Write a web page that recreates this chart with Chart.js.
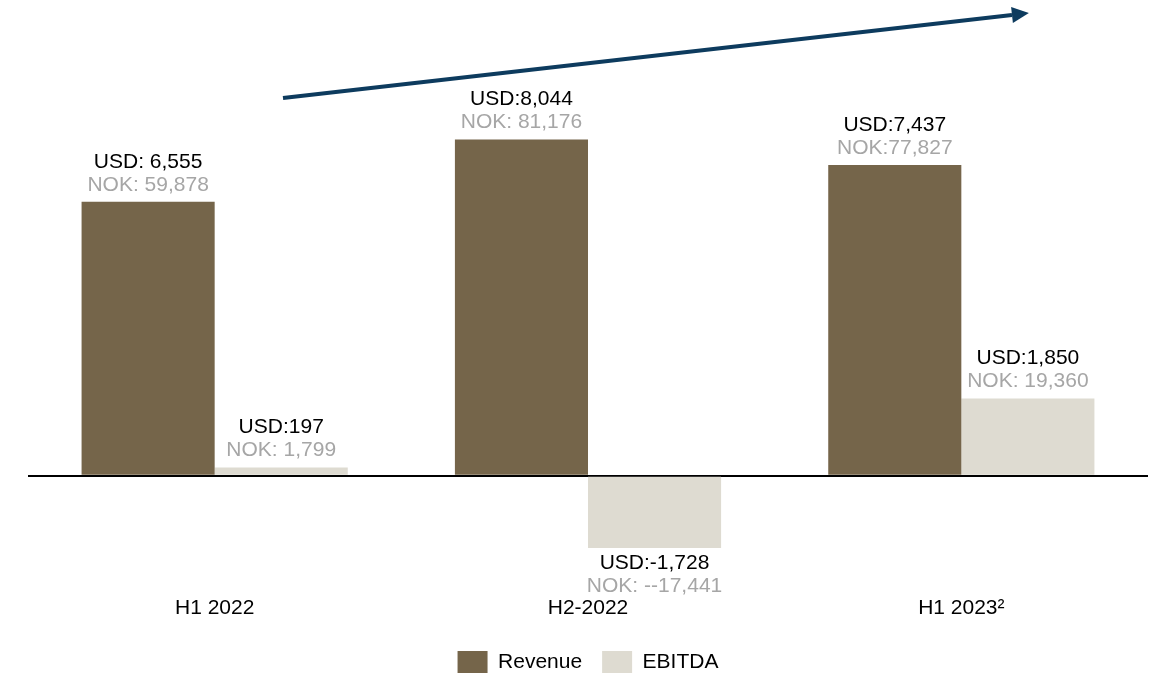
<!DOCTYPE html>
<html>
<head>
<meta charset="utf-8">
<script src="https://cdn.jsdelivr.net/npm/chart.js@4"></script>
<style>
  html, body { margin: 0; padding: 0; background: #fff; }
  #wrap { width: 1155px; height: 673px; }
</style>
</head>
<body>
<div id="wrap"><canvas id="myChart" width="1155" height="673"></canvas></div>
<script>
// half-year periods
const categories = ["H1 2022", "H2-2022", "H1 2023\u00B2"];
const revenueUsd = [6555, 8044, 7437];   // USD m
const ebitdaUsd = [197, -1728, 1850];    // USD m
// label texts as printed on the slide
const revenueUsdText = ["USD: 6,555", "USD:8,044", "USD:7,437"];
const revenueNokText = ["NOK: 59,878", "NOK: 81,176", "NOK:77,827"];
const ebitdaUsdText = ["USD:197", "USD:-1,728", "USD:1,850"];
const ebitdaNokText = ["NOK: 1,799", "NOK: --17,441", "NOK: 19,360"];

const fontFam = "'Liberation Sans', Arial, sans-serif";

// two-line labels above (or below) each bar
const barLabels = {
  id: "barLabels",
  afterDatasetsDraw(chart) {
    const ctx = chart.ctx;
    const texts = [[revenueUsdText, revenueNokText], [ebitdaUsdText, ebitdaNokText]];
    ctx.save();
    ctx.font = "21px " + fontFam;
    ctx.textAlign = "center";
    ctx.textBaseline = "middle";
    chart.data.datasets.forEach((ds, di) => {
      chart.getDatasetMeta(di).data.forEach((bar, i) => {
        let yUsd, yNok;
        if (ds.data[i] >= 0) {
          yUsd = bar.y - 40;
          yNok = bar.y - 17;
        } else {
          yUsd = bar.y + 15;
          yNok = bar.y + 38;
        }
        ctx.fillStyle = "#000000";
        ctx.fillText(texts[di][0][i], bar.x, yUsd);
        ctx.fillStyle = "#A6A6A6";
        ctx.fillText(texts[di][1][i], bar.x, yNok);
      });
    });
    ctx.restore();
  }
};

// growth arrow across the top
const trendArrow = {
  id: "trendArrow",
  afterDraw(chart) {
    const ctx = chart.ctx;
    const x1 = 283, y1 = 98, x2 = 1012, y2 = 15;
    const ang = Math.atan2(y2 - y1, x2 - x1);
    ctx.save();
    ctx.strokeStyle = "#0D3B5E";
    ctx.fillStyle = "#0D3B5E";
    ctx.lineWidth = 4;
    ctx.beginPath();
    ctx.moveTo(x1, y1);
    ctx.lineTo(x2, y2);
    ctx.stroke();
    // head
    const tx = x2 + 17 * Math.cos(ang), ty = y2 + 17 * Math.sin(ang);
    ctx.beginPath();
    ctx.moveTo(tx, ty);
    ctx.lineTo(x2 - 8 * Math.sin(ang), y2 + 8 * Math.cos(ang));
    ctx.lineTo(x2 + 8 * Math.sin(ang), y2 - 8 * Math.cos(ang));
    ctx.closePath();
    ctx.fill();
    ctx.restore();
  }
};

Chart.defaults.font.family = fontFam;
Chart.defaults.color = "#000000";

var ctx = document.getElementById("myChart").getContext("2d");
var myChart = new Chart(ctx, {
  type: "bar",
  data: {
    labels: categories,
    datasets: [
      {
        label: "Revenue",
        data: revenueUsd,
        backgroundColor: "#75654A",
        categoryPercentage: 0.713,
        barPercentage: 1.0
      },
      {
        label: "EBITDA",
        data: ebitdaUsd,
        backgroundColor: "#DEDBD1",
        categoryPercentage: 0.713,
        barPercentage: 1.0
      }
    ]
  },
  options: {
    responsive: false,
    animation: false,
    events: [],
    layout: { padding: { top: 16, left: 28, right: 7, bottom: -11 } },
    scales: {
      x: {
        grid: { display: false },
        border: { display: false },
        ticks: { font: { size: 21 }, color: "#000000", padding: 28 },
        afterFit: (scale) => { scale.height -= 18; }
      },
      y: {
        min: -2010,
        max: 11000,
        ticks: { display: false, stepSize: 10 },
        border: { display: false },
        grid: {
          drawTicks: false,
          color: (c) => (c.tick && c.tick.value === 0 ? "#000000" : "rgba(0,0,0,0)"),
          lineWidth: (c) => (c.tick && c.tick.value === 0 ? 2 : 0)
        },
        afterBuildTicks: (axis) => { axis.ticks = [{ value: 0 }]; }
      }
    },
    plugins: {
      legend: {
        position: "bottom",
        labels: {
          boxWidth: 30,
          boxHeight: 23,
          padding: 20,
          font: { size: 21 },
          color: "#000000"
        }
      },
      tooltip: { enabled: false }
    }
  },
  plugins: [barLabels, trendArrow]
});
</script>
</body>
</html>
